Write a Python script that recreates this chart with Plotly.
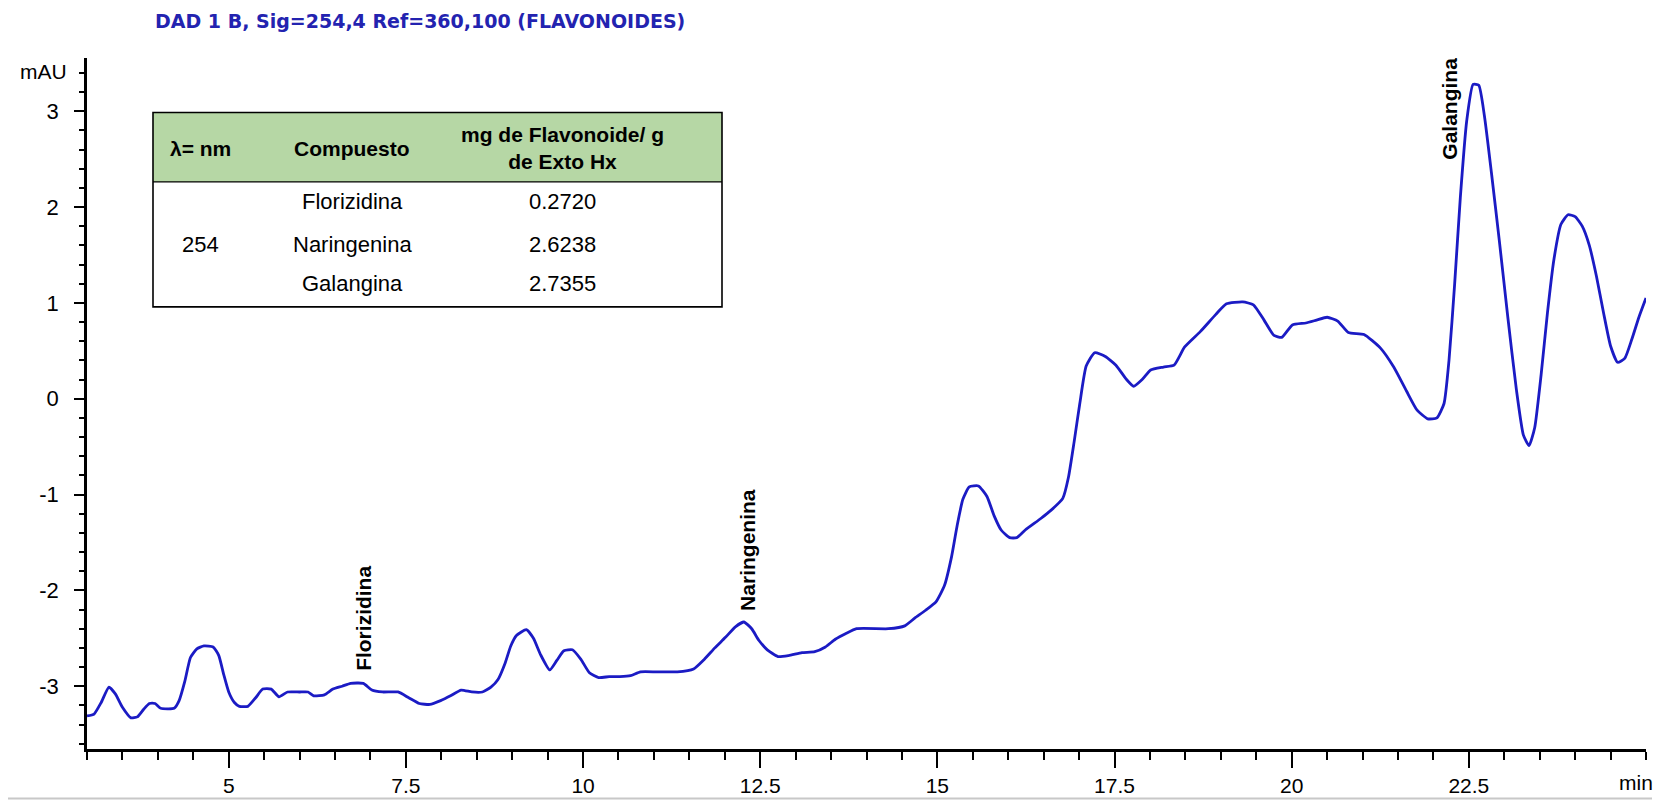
import plotly.graph_objects as go

# Chromatogram trace: retention time (min) vs. absorbance (mAU)
retention_min = [
    3.00, 3.10, 3.20, 3.31, 3.40, 3.50, 3.62, 3.71, 3.80, 3.88, 3.96, 4.04, 4.23, 4.30,
    4.38, 4.46, 4.55, 4.65, 4.78, 4.86, 4.93, 5.00, 5.08, 5.15, 5.27, 5.38, 5.48, 5.60,
    5.71, 5.83, 6.00, 6.12, 6.20, 6.35, 6.47, 6.60, 6.72, 6.90, 7.02, 7.17, 7.39, 7.54,
    7.69, 7.84, 7.99, 8.13, 8.28, 8.43, 8.58, 8.70, 8.80, 8.90, 8.98, 9.06, 9.20, 9.30,
    9.40, 9.53, 9.63, 9.73, 9.85, 9.97, 10.09, 10.22, 10.37, 10.52, 10.67, 10.81, 11.04,
    11.33, 11.56, 11.71, 11.86, 12.01, 12.15, 12.27, 12.38, 12.48, 12.60, 12.75, 12.90,
    13.09, 13.27, 13.42, 13.56, 13.71, 13.86, 14.31, 14.54, 14.68, 14.83, 14.98, 15.10,
    15.20, 15.28, 15.36, 15.45, 15.58, 15.70, 15.80, 15.90, 16.02, 16.12, 16.24, 16.46,
    16.61, 16.77, 16.85, 16.93, 17.01, 17.10, 17.22, 17.37, 17.52, 17.67, 17.77, 17.89,
    18.01, 18.19, 18.34, 18.49, 18.71, 18.93, 19.08, 19.31, 19.46, 19.61, 19.75, 19.86,
    20.01, 20.20, 20.35, 20.50, 20.65, 20.80, 21.02, 21.25, 21.44, 21.62, 21.77, 21.92,
    22.05, 22.15, 22.22, 22.30, 22.38, 22.47, 22.56, 22.64, 22.72, 22.82, 22.93, 23.05,
    23.17, 23.27, 23.35, 23.43, 23.52, 23.61, 23.70, 23.80, 23.90, 24.00, 24.10, 24.20,
    24.30, 24.40, 24.50, 24.60, 24.70, 24.80, 24.90, 25.00,
]
signal_mau = [
    -3.31, -3.29, -3.17, -3.01, -3.08, -3.22, -3.33, -3.32, -3.24, -3.18, -3.18, -3.23, -3.23, -3.15,
    -2.95, -2.70, -2.61, -2.58, -2.59, -2.68, -2.88, -3.06, -3.17, -3.21, -3.21, -3.12, -3.03, -3.03,
    -3.11, -3.06, -3.06, -3.06, -3.10, -3.09, -3.03, -3.00, -2.97, -2.97, -3.04, -3.06, -3.06, -3.12,
    -3.18, -3.19, -3.15, -3.10, -3.04, -3.06, -3.06, -3.01, -2.93, -2.76, -2.58, -2.47, -2.41, -2.50,
    -2.67, -2.83, -2.73, -2.63, -2.62, -2.72, -2.86, -2.91, -2.90, -2.90, -2.89, -2.85, -2.85,
    -2.85, -2.82, -2.72, -2.60, -2.49, -2.38, -2.33, -2.40, -2.52, -2.62, -2.69, -2.68,
    -2.65, -2.64, -2.59, -2.51, -2.45, -2.40, -2.40, -2.37, -2.29, -2.21, -2.12, -1.95,
    -1.65, -1.32, -1.05, -0.92, -0.91, -1.02, -1.22, -1.37, -1.45, -1.45, -1.37, -1.25,
    -1.16, -1.04, -0.82, -0.45, -0.05, 0.34, 0.48, 0.44, 0.35, 0.20, 0.13, 0.20,
    0.30, 0.33, 0.35, 0.54, 0.70, 0.88, 0.99, 1.01, 0.98, 0.82, 0.66, 0.64,
    0.77, 0.79, 0.82, 0.85, 0.81, 0.69, 0.67, 0.53, 0.33, 0.08, -0.12, -0.21,
    -0.20, -0.05, 0.40, 1.20, 2.10, 2.90, 3.28, 3.27, 2.95, 2.35, 1.65, 0.85,
    0.10, -0.38, -0.49, -0.30, 0.25, 0.90, 1.45, 1.82, 1.92, 1.90, 1.80, 1.60,
    1.28, 0.90, 0.55, 0.38, 0.42, 0.62, 0.85, 1.05,
]

# Identified peaks: name, retention time of the label, signal level where the label starts
peak_names = ["Florizidina", "Naringenina", "Galangina"]
peak_label_min = [6.91, 12.32, 22.23]
peak_label_mau = [-2.865, -2.23, 2.47]

# Quantification table
table_header = ["λ= nm", "Compuesto", "mg de Flavonoide/ g<br>de Exto Hx"]
wavelength_nm = "254"
compounds = ["Florizidina", "Naringenina", "Galangina"]
mg_per_g = ["0.2720", "2.6238", "2.7355"]

x_ticks = [5, 7.5, 10, 12.5, 15, 17.5, 20, 22.5]
y_ticks = [-3, -2, -1, 0, 1, 2, 3]

title_text = "DAD 1 B, Sig=254,4 Ref=360,100 (FLAVONOIDES)"

W, H = 1656, 807
PL, PR, PT, PB = 87, 1646, 58, 755  # plot area in pixels


def fx(p):
    return (p - PL) / (PR - PL)


def fy(p):
    return (PB - p) / (PB - PT)


TRACE_BLUE = "#1b1bc4"
TITLE_BLUE = "#2323b0"
AXIS_FONT = "Liberation Sans Narrow, Arial Narrow, Liberation Sans, Arial, sans-serif"
SANS = "Liberation Sans, Arial, sans-serif"
WIDE = "DejaVu Sans, Verdana, sans-serif"

fig = go.Figure()
fig.add_trace(go.Scatter(
    x=retention_min, y=signal_mau, mode="lines",
    line=dict(color=TRACE_BLUE, width=2.8, shape="spline", smoothing=0.5),
    hoverinfo="skip", showlegend=False,
))

annotations = []
shapes = []

# title
annotations.append(dict(
    text=f"<b>{title_text}</b>", x=fx(153), y=fy(21), xref="paper", yref="paper",
    xanchor="left", yanchor="middle", showarrow=False,
    font=dict(family=WIDE, size=19, color=TITLE_BLUE),
))

# axis unit labels
annotations.append(dict(
    text="mAU", x=fx(43), y=fy(72), xref="paper", yref="paper",
    xanchor="center", yanchor="middle", showarrow=False,
    font=dict(family=AXIS_FONT, size=21, color="black"),
))
annotations.append(dict(
    text="min", x=fx(1636), y=fy(789), xref="paper", yref="paper",
    xanchor="center", yanchor="middle", showarrow=False,
    font=dict(family=AXIS_FONT, size=21, color="black"),
))

# peak labels
for name, px_, py_ in zip(peak_names, peak_label_min, peak_label_mau):
    annotations.append(dict(
        text=f"<b>{name}</b>", x=px_, y=py_, xref="x", yref="y",
        xanchor="center", yanchor="bottom", textangle=-90, showarrow=False,
        font=dict(family=SANS, size=21, color="black"),
    ))

# table frame
T_L, T_R, T_T, T_H, T_B = 153, 722, 113, 183, 309
shapes.append(dict(type="rect", xref="paper", yref="paper",
                   x0=fx(T_L), x1=fx(T_R), y0=fy(T_H), y1=fy(T_T),
                   fillcolor="#b6d7a5", line=dict(width=0), layer="above"))
shapes.append(dict(type="rect", xref="paper", yref="paper",
                   x0=fx(T_L), x1=fx(T_R), y0=fy(T_B), y1=fy(T_T),
                   fillcolor="rgba(0,0,0,0)", line=dict(color="black", width=1.6), layer="above"))
shapes.append(dict(type="line", xref="paper", yref="paper",
                   x0=fx(T_L), x1=fx(T_R), y0=fy(T_H), y1=fy(T_H),
                   line=dict(color="black", width=1.4), layer="above"))

col_x = [200, 352, 562]
header_y = 149
row_y = [203, 246, 285]

for cx, txt in zip(col_x, table_header):
    annotations.append(dict(
        text=f"<b>{txt}</b>", x=fx(cx), y=fy(header_y), xref="paper", yref="paper",
        xanchor="center", yanchor="middle", showarrow=False, align="center",
        font=dict(family=SANS, size=21, color="black"),
    ))
annotations.append(dict(
    text=wavelength_nm, x=fx(col_x[0]), y=fy(row_y[1]), xref="paper", yref="paper",
    xanchor="center", yanchor="middle", showarrow=False,
    font=dict(family=SANS, size=22, color="black"),
))
for ry, comp, val in zip(row_y, compounds, mg_per_g):
    for cx, txt in ((col_x[1], comp), (col_x[2], val)):
        annotations.append(dict(
            text=txt, x=fx(cx), y=fy(ry), xref="paper", yref="paper",
            xanchor="center", yanchor="middle", showarrow=False,
            font=dict(family=SANS, size=22, color="black"),
        ))

# faint frame line along the bottom edge
shapes.append(dict(type="line", xref="paper", yref="paper",
                   x0=fx(8), x1=fx(1652), y0=fy(805), y1=fy(805),
                   line=dict(color="#c8c8c8", width=2)))

fig.update_layout(
    width=W, height=H, autosize=False,
    margin=dict(l=PL, r=W - PR, t=PT, b=H - PB),
    paper_bgcolor="white", plot_bgcolor="white",
    annotations=annotations, shapes=shapes,
    xaxis=dict(
        range=[3, 25], showgrid=False, zeroline=False,
        showline=True, linecolor="black", linewidth=2.5,
        ticks="outside", ticklen=16, tickwidth=2, tickcolor="black",
        tickmode="array", tickvals=x_ticks, ticktext=[f"{v:g}" for v in x_ticks],
        tickfont=dict(family=AXIS_FONT, size=21, color="black"),
        minor=dict(ticks="outside", ticklen=8, tickwidth=2, tickcolor="black",
                   tickmode="linear", tick0=0, dtick=0.5),
    ),
    yaxis=dict(
        range=[-3.655, 3.555], showgrid=False, zeroline=False,
        showline=True, linecolor="black", linewidth=2.5,
        ticks="outside", ticklen=10, tickwidth=2, tickcolor="black",
        tickmode="array", tickvals=y_ticks, ticktext=[f"{v:d}" for v in y_ticks],
        tickfont=dict(family=AXIS_FONT, size=22, color="black"),
        ticklabelstandoff=11,
        minor=dict(ticks="outside", ticklen=5, tickwidth=1.5, tickcolor="black",
                   tickmode="linear", tick0=0, dtick=0.2),
    ),
)

fig.write_html("out.html")
